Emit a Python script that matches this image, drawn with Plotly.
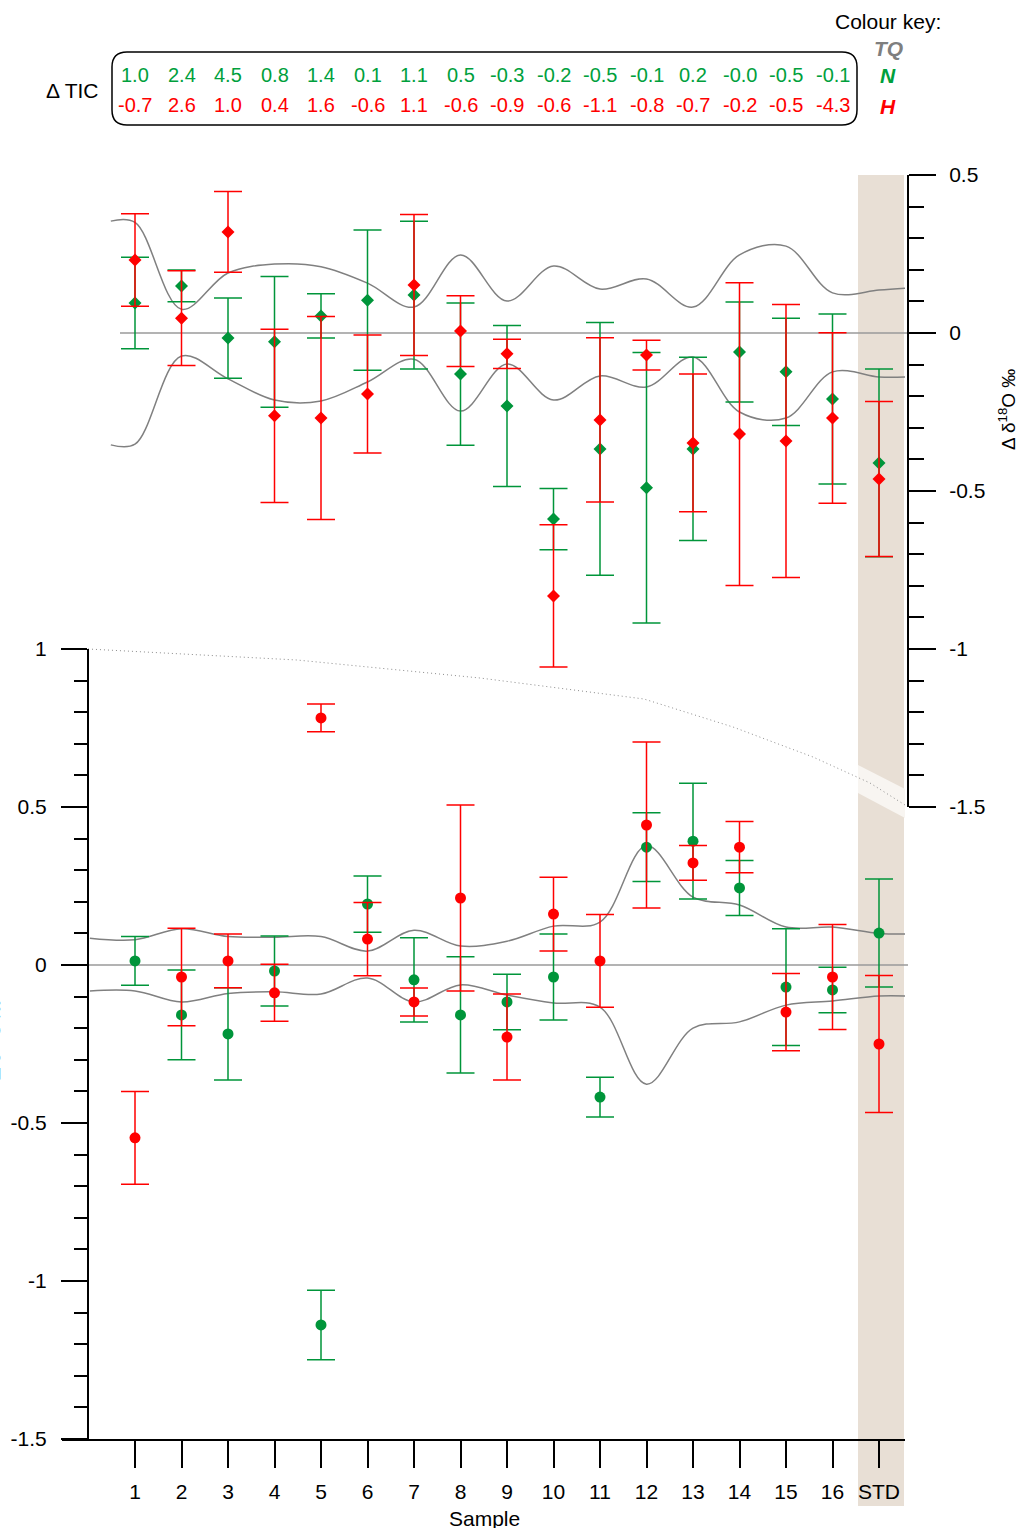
import numpy as np
import plotly.graph_objects as go

# ---------------- data ----------------
samples = ["1", "2", "3", "4", "5", "6", "7", "8", "9", "10", "11", "12", "13", "14", "15", "16", "STD"]
sample_pos = list(range(1, 18))

# Delta TIC table
tic_N = [1.0, 2.4, 4.5, 0.8, 1.4, 0.1, 1.1, 0.5, -0.3, -0.2, -0.5, -0.1, 0.2, -0.0, -0.5, -0.1]
tic_H = [-0.7, 2.6, 1.0, 0.4, 1.6, -0.6, 1.1, -0.6, -0.9, -0.6, -1.1, -0.8, -0.7, -0.2, -0.5, -4.3]

# Upper panel: Delta d18O (per mil)
o18_N = [0.095, 0.149, -0.016, -0.028, 0.054, 0.104, 0.120, -0.130, -0.231, -0.589, -0.367, -0.490, -0.367, -0.060, -0.123, -0.209, -0.411]
o18_N_err = [0.145, 0.050, 0.127, 0.207, 0.070, 0.222, 0.234, 0.225, 0.255, 0.097, 0.400, 0.428, 0.290, 0.158, 0.170, 0.269, 0.297]
o18_H = [0.231, 0.047, 0.320, -0.262, -0.269, -0.193, 0.152, 0.006, -0.066, -0.832, -0.275, -0.070, -0.348, -0.320, -0.342, -0.269, -0.462]
o18_H_err = [0.146, 0.150, 0.128, 0.274, 0.321, 0.187, 0.223, 0.112, 0.046, 0.225, 0.260, 0.047, 0.218, 0.479, 0.432, 0.270, 0.245]

# Upper panel TQ envelope
tq_o18_x = [0.48] + sample_pos + [17.56]
tq_o18_upper = [0.354, 0.350, 0.075, 0.190, 0.218, 0.210, 0.158, 0.082, 0.247, 0.101, 0.212, 0.139, 0.171, 0.082, 0.247, 0.275, 0.127, 0.136, 0.142]
tq_o18_lower = [-0.354, -0.352, -0.073, -0.145, -0.212, -0.215, -0.155, -0.083, -0.247, -0.098, -0.212, -0.136, -0.171, -0.076, -0.250, -0.269, -0.123, -0.139, -0.139]

# Lower panel: Delta d13C
c13_N = [0.013, -0.158, -0.218, -0.019, -1.139, 0.193, -0.047, -0.158, -0.117, -0.038, -0.418, 0.373, 0.392, 0.244, -0.070, -0.079, 0.101]
c13_N_err = [0.077, 0.142, 0.146, 0.111, 0.110, 0.089, 0.133, 0.184, 0.088, 0.136, 0.063, 0.109, 0.183, 0.087, 0.185, 0.072, 0.171]
c13_H = [-0.547, -0.038, 0.013, -0.088, 0.782, 0.082, -0.117, 0.212, -0.228, 0.161, 0.013, 0.443, 0.323, 0.373, -0.149, -0.038, -0.250]
c13_H_err = [0.147, 0.154, 0.085, 0.090, 0.044, 0.116, 0.044, 0.294, 0.136, 0.117, 0.147, 0.263, 0.055, 0.081, 0.122, 0.166, 0.217]

# Lower panel TQ envelope
tq_c13_x = [0.03] + sample_pos + [17.58]
tq_c13_upper = [0.085, 0.080, 0.115, 0.090, 0.088, 0.090, 0.044, 0.110, 0.060, 0.075, 0.123, 0.136, 0.377, 0.215, 0.190, 0.120, 0.120, 0.100, 0.098]
tq_c13_lower = [-0.082, -0.082, -0.117, -0.090, -0.085, -0.092, -0.041, -0.117, -0.063, -0.095, -0.120, -0.133, -0.377, -0.200, -0.180, -0.127, -0.114, -0.098, -0.098]

# ---------------- styling ----------------
W, H = 1019, 1528
GREEN = "#00953a"
RED = "#ff0000"
GRAY = "#808080"
FONT = "Arial, Liberation Sans, sans-serif"
FS = 21


def fx(px):
    return px / W


def fy(py):
    return 1 - py / H


def ppath(cmds):
    out = []
    for c in cmds:
        if isinstance(c, str):
            out.append(c)
        else:
            out.append(f"{fx(c[0]):.5f},{fy(c[1]):.5f}")
    return " ".join(out)


# pixel mapping of x axis: sample i at 135 + (i-1)*46.5
x_lo = 1 + (62 - 135) / 46.5
x_hi = 1 + (905 - 135) / 46.5

fig = go.Figure()

# TQ envelopes
for xs, ys, ya in [(tq_o18_x, tq_o18_upper, "y2"), (tq_o18_x, tq_o18_lower, "y2"),
                   (tq_c13_x, tq_c13_upper, "y"), (tq_c13_x, tq_c13_lower, "y")]:
    fig.add_trace(go.Scatter(x=xs, y=ys, mode="lines", xaxis="x", yaxis=ya,
                             line=dict(color=GRAY, width=1.5, shape="spline", smoothing=1.0),
                             hoverinfo="skip", showlegend=False))


def pts(y, err, color, symbol, size, ya):
    return go.Scatter(x=sample_pos, y=y, mode="markers", xaxis="x", yaxis=ya,
                      marker=dict(color=color, symbol=symbol, size=size, line=dict(width=0)),
                      error_y=dict(type="data", array=err, visible=True, color=color,
                                   thickness=1.5, width=14),
                      showlegend=False)


fig.add_trace(pts(o18_N, o18_N_err, GREEN, "diamond", 10, "y2"))
fig.add_trace(pts(o18_H, o18_H_err, RED, "diamond", 10, "y2"))
fig.add_trace(pts(c13_N, c13_N_err, GREEN, "circle", 11, "y"))
fig.add_trace(pts(c13_H, c13_H_err, RED, "circle", 11, "y"))

minor_lower = [round(v, 1) for v in np.arange(-1.5, 1.01, 0.1) if abs(round(v * 2) - v * 2) > 1e-6]
minor_upper = [round(v, 1) for v in np.arange(-1.5, 0.51, 0.1) if abs(round(v * 2) - v * 2) > 1e-6]

shapes = []
# STD band
shapes.append(dict(type="rect", xref="paper", yref="paper", x0=fx(858), x1=fx(904), y0=fy(1506), y1=fy(175),
                   fillcolor="#e8dfd5", line=dict(width=0), layer="below"))
# break stripe in band
shapes.append(dict(type="path", xref="paper", yref="paper",
                   path=ppath(["M", (858, 765), "L", (905, 789), "L", (905, 818), "L", (858, 793), "Z"]),
                   fillcolor="#f8f5f1", line=dict(width=0), layer="below"))
# dotted connector curve
conn = [(88, 649), (297, 660), (480, 678), (644, 699), (733, 727), (813, 757), (870, 783), (905, 805)]
cmds = ["M", conn[0]]
for p in conn[1:]:
    cmds += ["L", p]
shapes.append(dict(type="path", xref="paper", yref="paper", path=ppath(cmds),
                   line=dict(color="#8c8c8c", width=1, dash="1px,3px"), layer="below"))
# zero lines
shapes.append(dict(type="line", xref="paper", yref="y2", x0=fx(120), x1=fx(908), y0=0, y1=0,
                   line=dict(color="#9a9a9a", width=1.5), layer="below"))
shapes.append(dict(type="line", xref="paper", yref="y", x0=fx(88), x1=fx(908), y0=0, y1=0,
                   line=dict(color="#9a9a9a", width=1.5), layer="below"))
# rounded box around TIC table
shapes.append(dict(type="path", xref="paper", yref="paper",
                   path=ppath(["M", (127, 52), "L", (842, 52), "Q", (857, 52), (857, 67), "L", (857, 110),
                               "Q", (857, 125), (842, 125), "L", (127, 125), "Q", (112, 125), (112, 110),
                               "L", (112, 67), "Q", (112, 52), (127, 52), "Z"]),
                   line=dict(color="black", width=1.5)))


def ann(x, y, text, size=FS, color="black", xref="paper", xanchor="center", angle=0):
    return dict(x=x, y=y, xref=xref, yref="paper", text=text, showarrow=False,
                xanchor=xanchor, yanchor="middle", textangle=angle,
                font=dict(family=FONT, size=size, color=color))


annotations = []
for i, (n, h) in enumerate(zip(tic_N, tic_H)):
    annotations.append(ann(sample_pos[i], fy(75), f"{n:.1f}", 20, "#00a03c", xref="x"))
    annotations.append(ann(sample_pos[i], fy(105), f"{h:.1f}", 20, RED, xref="x"))

annotations += [
    ann(fx(101), fy(91), "Δ TIC", xanchor="right"),
    ann(fx(888), fy(21), "Colour key:"),
    ann(fx(888), fy(48), "<b><i>TQ</i></b>", color="#7f7f7f"),
    ann(fx(888), fy(76), "<b><i>N</i></b>", color="#00a03c"),
    ann(fx(888), fy(107), "<b><i>H</i></b>", color=RED),
    ann(fx(1007), fy(410), "Δ δ<sup>18</sup>O ‰", size=19, angle=-90),
    ann(fx(-8), fy(1040), "Δ δ<sup>13</sup>C ‰", size=19, angle=-90),
    ann(fx(484), fy(1518), "Sample"),
]

tickfont = dict(family=FONT, size=FS, color="black")

fig.update_layout(
    width=W, height=H,
    margin=dict(l=0, r=0, t=0, b=0, pad=0, autoexpand=False),
    paper_bgcolor="white", plot_bgcolor="rgba(0,0,0,0)",
    font=dict(family=FONT, size=FS, color="black"),
    showlegend=False,
    xaxis=dict(domain=[fx(62), fx(905)], range=[x_lo, x_hi], anchor="y", automargin=False,
               showline=True, linecolor="black", linewidth=2,
               ticks="outside", ticklen=27, tickwidth=1.5, tickcolor="black",
               tickmode="array", tickvals=sample_pos, ticktext=samples,
               ticklabelstandoff=6, showgrid=False, zeroline=False, tickfont=tickfont),
    yaxis=dict(domain=[fy(1439), fy(649)], range=[-1.5, 1], anchor="free", position=fx(88),
               automargin=False, showline=True, linecolor="black", linewidth=2,
               ticks="outside", ticklen=26, tickwidth=1.5, tickcolor="black",
               tickmode="array", tickvals=[-1.5, -1, -0.5, 0, 0.5, 1],
               ticktext=["-1.5", "-1", "-0.5", "0", "0.5", "1"],
               minor=dict(tickmode="array", tickvals=minor_lower, ticks="outside", ticklen=13,
                          tickwidth=1.5, tickcolor="black", showgrid=False),
               ticklabelstandoff=10, showgrid=False, zeroline=False, tickfont=tickfont),
    yaxis2=dict(domain=[fy(807), fy(175)], range=[-1.5, 0.5], anchor="free", position=fx(908),
                automargin=False, side="right", showline=True, linecolor="black", linewidth=2,
                ticks="outside", ticklen=27, tickwidth=1.5, tickcolor="black",
                tickmode="array", tickvals=[-1.5, -1, -0.5, 0, 0.5],
                ticktext=["-1.5", "-1", "-0.5", "0", "0.5"],
                minor=dict(tickmode="array", tickvals=minor_upper, ticks="outside", ticklen=15,
                           tickwidth=1.5, tickcolor="black", showgrid=False),
                ticklabelstandoff=9, showgrid=False, zeroline=False, tickfont=tickfont),
    shapes=shapes,
    annotations=annotations,
)

fig.write_html("out.html",
               config={"displayModeBar": False},
               post_script="document.body.style.margin='0px'; document.body.style.overflow='hidden';")
